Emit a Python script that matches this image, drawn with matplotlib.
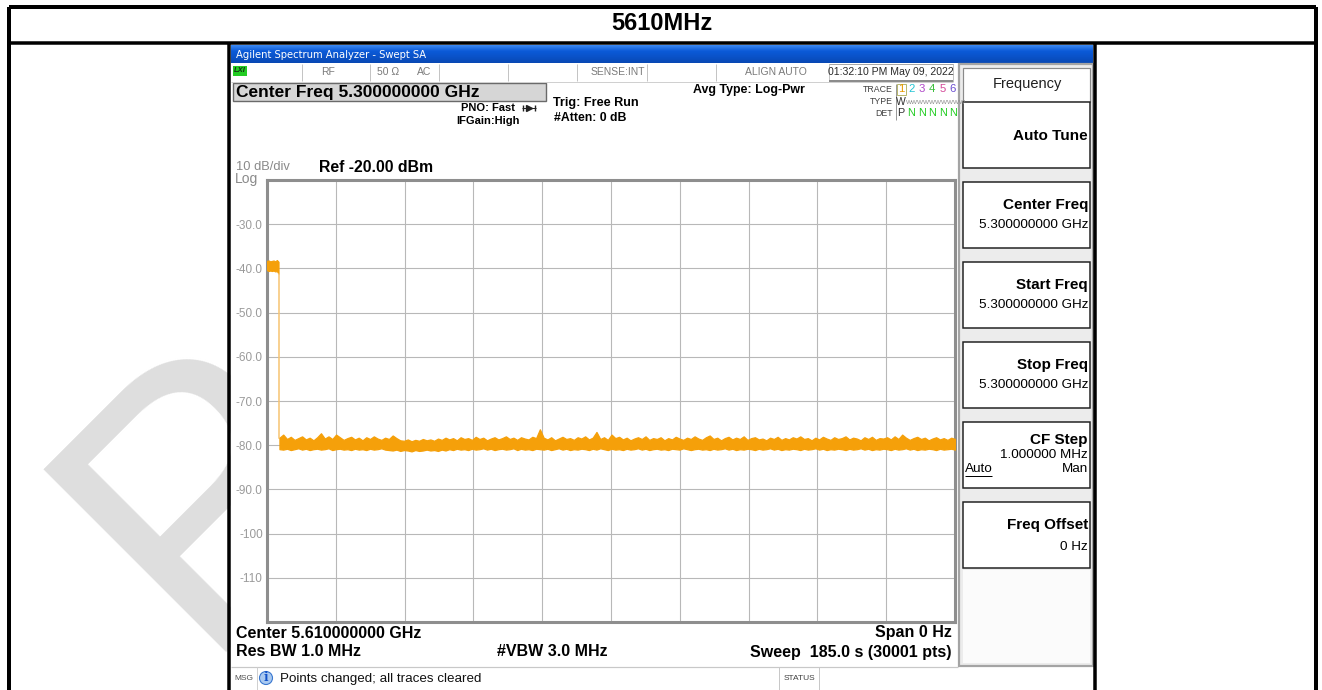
import numpy as np
import matplotlib
matplotlib.use('Agg')
import matplotlib.pyplot as plt
from matplotlib.patches import Rectangle, Circle
from matplotlib.colors import LinearSegmentedColormap

# ---------------- data ----------------
page_title = "5610MHz"
window_title = "Agilent Spectrum Analyzer - Swept SA"
sweep_time_s = 185.0
ref_level_dbm = -20.0
db_per_div = 10.0
y_tick_values = [-30, -40, -50, -60, -70, -80, -90, -100, -110]
y_tick_labels = ["-30.0", "-40.0", "-50.0", "-60.0", "-70.0", "-80.0", "-90.0", "-100", "-110"]

# burst at start of sweep (dBm)
signal_top = [-38.3, -38.2, -38.4, -38.3, -38.2, -38.4, -38.1, -38.5]
signal_bottom = [-40.4, -40.6, -40.5, -40.6, -40.5, -40.7, -40.6, -41.2]
signal_end_s = 3.1
fall_time_s = 3.25
noise_start_s = 3.35

# noise floor envelope (dBm), read along the sweep
noise_top = [
    -78.3, -77.6, -78.6, -78.1, -78.8, -78.4, -78.0, -78.7, -78.3, -78.9,
    -78.2, -77.3, -78.5, -78.0, -78.6, -77.6, -78.2, -78.8, -78.4, -78.1,
    -78.7, -78.3, -78.9, -78.2, -78.6, -78.0, -78.5, -78.8, -78.3, -78.6,
    -77.8, -78.4, -78.9, -79.0, -78.7, -79.1, -78.8, -79.0, -78.6, -78.9,
    -78.7, -79.0, -78.5, -78.8, -78.3, -78.7, -78.4, -78.9, -78.2, -78.6,
    -78.4, -78.8, -78.1, -78.6, -78.3, -78.9, -78.5, -78.2, -78.7, -78.4,
    -78.0, -78.6, -78.3, -78.8, -78.2, -78.5, -78.7, -78.1, -78.4, -76.4,
    -78.3, -78.7, -78.2, -78.9, -78.5, -78.1, -78.6, -78.4, -78.8, -78.2,
    -78.5, -78.0, -78.7, -78.3, -77.0, -78.6, -78.2, -78.8, -77.6, -78.4,
    -78.1, -78.7, -78.3, -78.9, -78.5, -78.2, -78.6, -78.0, -78.8, -78.4,
    -78.6, -78.2, -78.9, -78.4, -78.7, -78.1, -78.5, -78.8, -78.3, -78.6,
    -78.0, -78.5, -78.8, -78.2, -77.8, -78.6, -78.3, -78.9, -78.4, -78.1,
    -78.7, -78.3, -78.6, -78.0, -78.8, -78.4, -78.2, -78.7, -78.5, -78.9,
    -78.3, -78.6, -78.1, -78.8, -78.4, -78.7, -78.2, -78.5, -78.0, -78.6,
    -78.4, -78.9, -78.3, -78.7, -78.1, -78.5, -78.8, -78.2, -78.6, -78.4,
    -78.0, -78.7, -78.3, -78.5, -78.9, -78.2, -78.6, -78.1, -78.8, -78.4,
    -78.5, -78.2, -78.7, -78.0, -78.6, -77.6, -78.3, -78.8, -78.4, -78.1,
    -78.6, -78.3, -78.9, -78.5, -78.2, -78.7, -78.4, -78.8, -78.3, -78.6,
]
noise_bottom = [
    -80.9, -81.0, -80.8, -81.1, -80.9, -80.7, -81.0, -80.8, -81.1, -80.9,
    -80.8, -81.0, -80.9, -80.7, -81.1, -80.9, -80.8, -81.0, -80.9, -81.1,
    -80.8, -81.0, -80.9, -81.1, -80.8, -81.0, -80.9, -80.7, -81.0, -81.1,
    -81.2, -81.0, -81.3, -81.1, -81.2, -81.4, -81.1, -81.3, -81.2, -81.0,
    -81.2, -81.1, -81.3, -81.0, -81.2, -80.9, -81.1, -80.8, -81.0, -80.9,
    -81.1, -80.8, -81.0, -80.9, -80.7, -81.0, -80.8, -81.1, -80.9, -80.8,
    -81.0, -80.9, -80.7, -81.1, -80.8, -81.0, -80.9, -81.1, -80.8, -80.9,
    -81.0, -80.8, -81.1, -80.9, -80.7, -81.0, -80.8, -81.1, -80.9, -81.0,
    -80.8, -80.9, -81.1, -80.8, -81.0, -80.7, -80.9, -81.1, -80.8, -81.0,
    -80.9, -81.1, -80.8, -81.0, -80.9, -80.7, -81.0, -80.8, -81.1, -80.9,
    -80.8, -81.0, -80.9, -81.1, -80.8, -80.9, -81.0, -80.7, -80.9, -81.1,
    -80.9, -80.8, -81.0, -80.9, -81.1, -80.8, -81.0, -80.9, -80.7, -81.0,
    -80.8, -81.1, -80.9, -81.0, -80.8, -80.9, -81.1, -80.8, -81.0, -80.9,
    -80.7, -81.0, -80.8, -81.1, -80.9, -81.0, -80.8, -80.9, -81.1, -80.8,
    -81.0, -80.9, -80.7, -81.0, -80.8, -81.1, -80.9, -81.0, -80.8, -80.9,
    -81.1, -80.8, -81.0, -80.9, -80.7, -81.0, -80.8, -81.1, -80.9, -81.0,
    -80.8, -80.9, -81.1, -80.8, -81.0, -80.9, -80.7, -81.0, -80.8, -81.1,
    -80.9, -81.0, -80.8, -80.9, -81.1, -80.8, -81.0, -80.9, -80.8, -81.0,
]

status_cells = ["RF", "50 \u03a9", "AC", "SENSE:INT", "ALIGN AUTO"]
timestamp = "01:32:10 PM May 09, 2022"
header_main = "Center Freq 5.300000000 GHz"
trace_numbers = ["1", "2", "3", "4", "5", "6"]
trace_colors = ["#e89a00", "#22c4d4", "#b048c8", "#3cbf3c", "#d44898", "#6a4cd0"]
det_letters = ["P", "N", "N", "N", "N", "N"]
bottom_left = ["Center 5.610000000 GHz", "Res BW 1.0 MHz"]
bottom_mid = "#VBW 3.0 MHz"
bottom_right = ["Span 0 Hz", "Sweep  185.0 s (30001 pts)"]
message = "Points changed; all traces cleared"
softkeys = [
    ("Center Freq", "5.300000000 GHz"),
    ("Start Freq", "5.300000000 GHz"),
    ("Stop Freq", "5.300000000 GHz"),
]

# ---------------- figure ----------------
W, H = 1322, 690
FONT = ["Liberation Sans", "DejaVu Sans"]
fig = plt.figure(figsize=(W / 100, H / 100), dpi=100)
ax = fig.add_axes([0, 0, 1, 1])
ax.set_xlim(0, W)
ax.set_ylim(H, 0)
ax.axis("off")
PX = 0.72  # points per pixel


def txt(x, y, s, size, weight="normal", color="black", ha="left", va="center", z=5, **kw):
    ax.text(x, y, s, fontsize=size, fontweight=weight, color=color, ha=ha, va=va,
            family=kw.pop("family", FONT), zorder=z, **kw)


def line(xs, ys, lw_px, color, z=4):
    ax.plot(xs, ys, lw=lw_px * PX, color=color, solid_capstyle="butt", zorder=z)


def rect(x0, y0, x1, y1, fc, ec="none", lw_px=1.0, z=2):
    ax.add_patch(Rectangle((x0, y0), x1 - x0, y1 - y0, facecolor=fc, edgecolor=ec,
                           lw=lw_px * PX, zorder=z))


# watermark (behind screenshot)
ax.text(196, 652, "P", fontsize=270, rotation=45, rotation_mode="anchor", ha="left",
        va="baseline", color="#dedede", family=FONT, zorder=0.5, clip_on=True)

# screenshot background
rect(231, 45, 1093, 690, "white", z=1)

# page frame
line([9, 1316], [7, 7], 4, "black", z=6)
line([9, 9], [7, 690], 4, "black", z=6)
line([1316, 1316], [7, 690], 4, "black", z=6)
line([9, 1316], [43, 43], 3.5, "black", z=6)
line([229, 229], [43, 690], 3.5, "black", z=6)
line([1095, 1095], [43, 690], 3.5, "black", z=6)
txt(662, 24, page_title, 17, "bold", ha="center")

# blue title bar
cmap = LinearSegmentedColormap.from_list("bar", ["#3b88f2", "#0b5ad8", "#0a52c8", "#0848b4"])
ax.imshow(np.linspace(0, 1, 30).reshape(-1, 1), extent=[231, 1093, 63, 45], cmap=cmap,
          aspect="auto", zorder=2)
ax.set_xlim(0, W)
ax.set_ylim(H, 0)
txt(236, 55, window_title, 7.2, color="white", family=["DejaVu Sans"])

# status row
for xs in [302, 370, 439, 508, 577, 647, 716, 829, 953]:
    line([xs, xs], [64, 81], 1, "#c4c4c4")
line([231, 953], [81.5, 81.5], 1, "#d0d0d0")
rect(233, 66, 247, 76, "#22cc22", z=3)
txt(240, 71, "LXI", 5.5, "bold", color="#143214", ha="center", style="italic")
sc = "#7a7a7a"
txt(328, 72, status_cells[0], 7.5, color=sc, ha="center")
txt(377, 72, status_cells[1], 7.5, color=sc)
txt(417, 72, status_cells[2], 7.5, color=sc)
txt(645, 72, status_cells[3], 7.5, color=sc, ha="right")
txt(776, 72, status_cells[4], 7.5, color=sc, ha="center")
rect(829, 64, 953, 81, "white", "#a8a8a8", 1, z=3)
line([829, 953], [81, 81], 2, "#8c8c8c")
txt(891, 72, timestamp, 7.6, color="#2a2a2a", ha="center")

# header line
rect(233, 83, 546, 101, "#d6d6d6", "#6a6a6a", 1.4, z=3)
txt(236, 92.5, header_main, 12.5, "bold")
txt(488, 108, "PNO: Fast", 8, "bold", ha="center")
txt(488, 121, "IFGain:High", 8, "bold", ha="center")
line([522, 536], [108, 108], 1, "#222222")
ax.plot([529], [108], marker=">", ms=4, color="#222222", zorder=5)
ax.plot([523, 535], [108, 108], marker="|", ms=4, lw=0, color="#222222", zorder=5)
txt(553, 103, "Trig: Free Run", 9.1, "bold")
txt(554, 118, "#Atten: 0 dB", 8.8, "bold")
txt(693, 90, "Avg Type: Log-Pwr", 8.9, "bold")

# trace table
txt(893, 89, "TRACE", 6.3, color="#404040", ha="right")
txt(893, 102, "TYPE", 6.3, color="#404040", ha="right")
txt(893, 113, "DET", 6.3, color="#404040", ha="right")
line([895.5, 895.5], [84, 120], 1, "#9a9a9a")
rect(897, 84, 905.5, 95, "none", "#b8b870", 1, z=4)
tx0, tdx = 901, 10.4
for i, (n, c) in enumerate(zip(trace_numbers, trace_colors)):
    txt(tx0 + i * tdx, 89.5, n, 8.2, color=c, ha="center")
txt(901, 102, "W", 7.5, color="#303030", ha="center")
txt(906, 102, "WWWWWWWWWW", 4.6, color="#8a8a8a")
for i, d in enumerate(det_letters):
    txt(tx0 + i * tdx, 113, d, 7.8, color="#303030" if i == 0 else "#22cc22", ha="center")

# scale annotations
txt(236, 167, "10 dB/div", 9.3, color="#8a8a8a")
txt(235, 179, "Log", 10, color="#8a8a8a")
txt(319, 167, "Ref -20.00 dBm", 11.4, "bold")

# bottom annotations
txt(236, 633, bottom_left[0], 11.5, "bold")
txt(236, 652, bottom_left[1], 11.5, "bold")
txt(497, 652, bottom_mid, 11.5, "bold")
txt(952, 633, bottom_right[0], 11.5, "bold", ha="right")
txt(952, 652, bottom_right[1], 11.5, "bold", ha="right")

# message row
line([231, 958], [666.5, 666.5], 1.2, "#c8c8c8")
line([257, 257], [667, 690], 1, "#d0d0d0")
line([779, 779], [667, 690], 1, "#c8c8c8")
line([819, 819], [667, 690], 1, "#c8c8c8")
txt(234, 679, "MSG", 6, color="#505050")
ax.add_patch(Circle((266, 678), 6.5, facecolor="#a9c9f0", edgecolor="#3a78d0", lw=0.8, zorder=5))
txt(266, 677.5, "i", 8.5, "bold", color="#1050c8", ha="center", family=["DejaVu Serif"])
txt(280, 679, message, 9.6, color="#101010")
txt(799, 678, "STATUS", 6, color="#404040", ha="center")

# soft key panel
rect(959, 64, 1093, 666, "#ececec", "#a4a4a4", 2.2, z=2)
rect(963, 570, 1090, 663, "#fbfbfb", z=2.5)
rect(963, 68, 1090, 102, "white", "#8a8a8a", 1.2, z=3)
txt(1027, 84, "Frequency", 10.5, color="#202020", ha="center")
rect(963, 102, 1090, 168, "white", "#202020", 1.5, z=3)
txt(1088, 136, "Auto Tune", 11, "bold", ha="right")
tops = [182, 262, 342, 422, 502]
for t in tops:
    rect(963, t, 1090, t + 66, "white", "#202020", 1.5, z=3)
for t, (k, v) in zip(tops[:3], softkeys):
    txt(1088, t + 23, k, 11, "bold", ha="right")
    txt(1088, t + 43, v, 9.7, ha="right")
txt(1088, tops[3] + 18, "CF Step", 11, "bold", ha="right")
txt(1088, tops[3] + 33, "1.000000 MHz", 9.7, ha="right")
txt(965, tops[3] + 47, "Auto", 9.7)
line([965, 992], [tops[3] + 54, tops[3] + 54], 1, "black", z=5)
txt(1088, tops[3] + 47, "Man", 9.7, ha="right")
txt(1088, tops[4] + 23, "Freq Offset", 11, "bold", ha="right")
txt(1088, tops[4] + 45, "0 Hz", 9.7, ha="right")

# ---------------- plot area ----------------
L, T, R, B = 267, 180, 955, 622
pax = fig.add_axes([L / W, (H - B) / H, (R - L) / W, (B - T) / H])
pax.set_facecolor("white")
pax.set_xlim(0, sweep_time_s)
pax.set_ylim(ref_level_dbm - 10 * db_per_div, ref_level_dbm)
pax.set_xticks([sweep_time_s / 10 * k for k in range(1, 10)])
pax.set_xticklabels([])
pax.set_yticks(y_tick_values)
pax.set_yticklabels(y_tick_labels, fontsize=8.5, color="#9a9a9a", family=FONT)
pax.tick_params(length=0, pad=3)
pax.grid(True, color="#b8b8b8", lw=0.8)
pax.set_axisbelow(True)
for s in pax.spines.values():
    s.set_color("#8e8e8e")
    s.set_linewidth(2.2)

orange = "#f5a00a"
t_sig = np.linspace(0, signal_end_s, len(signal_top))
pax.fill_between(t_sig, signal_bottom, signal_top, color=orange, lw=0.8, zorder=3)
pax.plot([fall_time_s, fall_time_s], [signal_bottom[-1], noise_top[0]], color="#f6c472",
         lw=1.1, zorder=3)
t_noise = np.linspace(noise_start_s, sweep_time_s, len(noise_top))
pax.fill_between(t_noise, noise_bottom, noise_top, color=orange, edgecolor=orange, lw=0.9, zorder=3)

fig.savefig("out.png", dpi=100)
